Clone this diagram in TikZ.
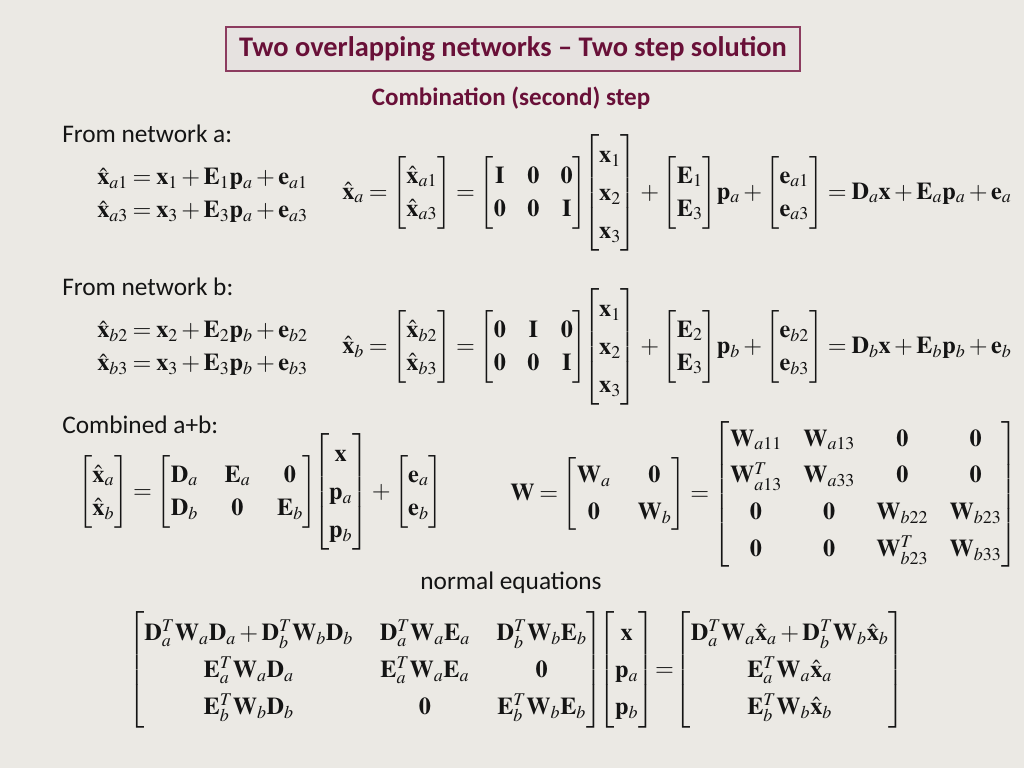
\documentclass[tikz,border=0pt]{standalone}
\usepackage{amsmath}
\usepackage{mathptmx}
\usepackage[no-math]{fontspec}
\newfontfamily\calib{Carlito}
\definecolor{bgc}{RGB}{235,233,228}
\definecolor{maroon}{RGB}{105,16,56}
\definecolor{boxline}{RGB}{140,60,95}
\definecolor{boxfill}{RGB}{230,226,224}
\definecolor{ink}{RGB}{20,20,20}
\newcommand\mb[1]{\mathbf{#1}}
\newcommand\hx{\hat{\mathbf{x}}}
\newcommand\Mx[3][7pt]{{\setlength{\arraycolsep}{#1}\def\arraystretch{#2}\begin{bmatrix}#3\end{bmatrix}}}
\newcommand\tight{\thickmuskip=3.5mu plus 1mu\medmuskip=2.5mu plus 1mu\thinmuskip=2mu}
\newcommand\jn{\mkern-3mu}
\newcommand\eqq{\mkern-3mu=\mkern-3mu}
\tikzset{
  lbl/.style={anchor=west,inner sep=0pt,text=ink,font=\calib\fontsize{19}{23}\selectfont},
  eqn/.style={anchor=west,inner sep=0pt,text=ink,font=\fontsize{18.2}{23}\selectfont\tight},
  ttl/.style={draw=boxline,line width=1pt,fill=boxfill,text=maroon,minimum width=430.5pt,minimum height=33pt,inner sep=0pt,font=\calib\bfseries\fontsize{21.3}{25}\selectfont},
  sub/.style={text=maroon,inner sep=0pt,font=\calib\bfseries\fontsize{18.8}{22}\selectfont}
}
\begin{document}
\begin{tikzpicture}[x=0.75pt,y=-0.75pt]
\fill[bgc] (0,0) rectangle (1024,768);
\useasboundingbox (0,0) rectangle (1024,768);
\setlength{\jot}{2pt}
\node[ttl] (title) at (513,49) {Two overlapping networks – Two step solution};
\node[sub] (step) at (511,98) {Combination (second) step};
% network a
\node[lbl] (la) at (62,134) {From network a:};
\node[eqn] (ea) at (97,195) {$\begin{aligned}\hx_{a1} &= \mb x_1+\mb E_1\mb p_a+\mb e_{a1}\\ \hx_{a3} &= \mb x_3+\mb E_3\mb p_a+\mb e_{a3}\end{aligned}$};
\node[eqn] (ma) at (342,193) {$\hx_a=\Mx{1.08}{\hx_{a1}\\ \hx_{a3}}=\Mx[8pt]{1.08}{\mb I&\mb 0&\mb 0\\ \mb 0&\mb 0&\mb I}\jn\Mx{1.24}{\mb x_1\\ \mb x_2\\ \mb x_3}+\Mx{1.08}{\mb E_1\\ \mb E_3}\mb p_a+\Mx{1.08}{\mb e_{a1}\\ \mb e_{a3}}=\mb D_a\mb x+\mb E_a\mb p_a+\mb e_a$};
% network b
\node[lbl] (lb) at (62,287) {From network b:};
\node[eqn] (eb) at (97,348) {$\begin{aligned}\hx_{b2} &= \mb x_2+\mb E_2\mb p_b+\mb e_{b2}\\ \hx_{b3} &= \mb x_3+\mb E_3\mb p_b+\mb e_{b3}\end{aligned}$};
\node[eqn] (mbb) at (342,347) {$\hx_b=\Mx{1.08}{\hx_{b2}\\ \hx_{b3}}=\Mx[8pt]{1.08}{\mb 0&\mb I&\mb 0\\ \mb 0&\mb 0&\mb I}\jn\Mx{1.24}{\mb x_1\\ \mb x_2\\ \mb x_3}+\Mx{1.08}{\mb E_2\\ \mb E_3}\mb p_b+\Mx{1.08}{\mb e_{b2}\\ \mb e_{b3}}=\mb D_b\mb x+\mb E_b\mb p_b+\mb e_b$};
% combined
\node[lbl] (lc) at (62,425) {Combined a+b:};
\node[eqn] (ec) at (78,492) {$\Mx{1.08}{\hx_a\\ \hx_b}=\Mx[10pt]{1.08}{\mb D_a&\mb E_a&\mb 0\\ \mb D_b&\mb 0&\mb E_b}\jn\Mx{1.24}{\mb x\\ \mb p_a\\ \mb p_b}+\Mx{1.08}{\mb e_a\\ \mb e_b}$};
\node[eqn] (ew) at (510,494) {$\mb W=\Mx[10pt]{1.2}{\mb W_a&\mb 0\\ \mb 0&\mb W_b}=\Mx[8pt]{1.2}{\mb W_{a11}&\mb W_{a13}&\mb 0&\mb 0\\ \mb W_{a13}^T&\mb W_{a33}&\mb 0&\mb 0\\ \mb 0&\mb 0&\mb W_{b22}&\mb W_{b23}\\ \mb 0&\mb 0&\mb W_{b23}^T&\mb W_{b33}}$};
% normal equations
\node[lbl,anchor=center] (ln) at (511,583) {normal equations};
\node[eqn] (en) at (128,670) {$\Mx[10pt]{1.2}{\mb D_a^T\mb W_a\mb D_a+\mb D_b^T\mb W_b\mb D_b&\mb D_a^T\mb W_a\mb E_a&\mb D_b^T\mb W_b\mb E_b\\ \mb E_a^T\mb W_a\mb D_a&\mb E_a^T\mb W_a\mb E_a&\mb 0\\ \mb E_b^T\mb W_b\mb D_b&\mb 0&\mb E_b^T\mb W_b\mb E_b}\jn\Mx{1.2}{\mb x\\ \mb p_a\\ \mb p_b}\eqq\Mx{1.2}{\mb D_a^T\mb W_a\hx_a+\mb D_b^T\mb W_b\hx_b\\ \mb E_a^T\mb W_a\hx_a\\ \mb E_b^T\mb W_b\hx_b}$};
\end{tikzpicture}
\end{document}
